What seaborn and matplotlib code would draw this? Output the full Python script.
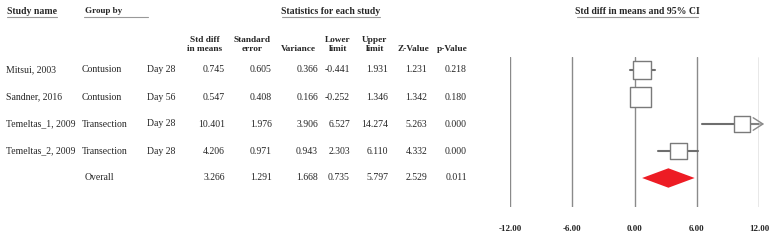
import matplotlib
matplotlib.use("Agg")
import matplotlib.pyplot as plt
from matplotlib.lines import Line2D
import seaborn as sns
import pandas as pd

# data
studies = ["Mitsui, 2003", "Sandner, 2016", "Temeltas_1, 2009", "Temeltas_2, 2009"]
groups = ["Contusion", "Contusion", "Transection", "Transection"]
days = ["Day 28", "Day 56", "Day 28", "Day 28"]
std_diff = [0.745, 0.547, 10.401, 4.206]
std_err = [0.605, 0.408, 1.976, 0.971]
variance = [0.366, 0.166, 3.906, 0.943]
lower = [-0.441, -0.252, 6.527, 2.303]
upper = [1.931, 1.346, 14.274, 6.110]
z_value = [1.231, 1.342, 5.263, 4.332]
p_value = [0.218, 0.180, 0.000, 0.000]

overall = {"std_diff": 3.266, "std_err": 1.291, "variance": 1.668,
           "lower": 0.735, "upper": 5.797, "z": 2.529, "p": 0.011}

x_ticks = [-12, -6, 0, 6, 12]

df = pd.DataFrame({
    "study": studies, "group": groups, "day": days,
    "est": std_diff, "se": std_err, "var": variance,
    "lo": lower, "hi": upper, "z": z_value, "p": p_value,
})
df["row"] = range(len(df))
df["weight"] = 1 / df["var"]

sns.set_theme(style="white")
plt.rcParams["font.family"] = ["Liberation Serif", "DejaVu Serif"]

W, H = 775, 243
fig = plt.figure(figsize=(W / 100, H / 100), dpi=100)


def fx(x):
    return x / W


def fy(y):
    return 1 - y / H


FS = 7
# header
fig.text(fx(7), fy(11), "Study name", fontsize=FS, fontweight="bold", va="center")
fig.text(fx(85), fy(11), "Group by", fontsize=FS - 0.5, fontweight="bold", va="center")
fig.text(fx(331), fy(11), "Statistics for each study", fontsize=FS, fontweight="bold",
         va="center", ha="center")
fig.text(fx(637), fy(11), "Std diff in means and 95% CI", fontsize=FS, fontweight="bold",
         va="center", ha="center")
for x0, x1 in [(7, 57), (84, 148), (282, 380), (577, 698)]:
    fig.add_artist(Line2D([fx(x0), fx(x1)], [fy(17), fy(17)], color="#999999", lw=0.8))

col_heads = [("Std diff\nin means", 205), ("Standard\nerror", 252), ("Variance", 298),
             ("Lower\nlimit", 338), ("Upper\nlimit", 375), ("Z-Value", 413), ("p-Value", 452)]
for label, cx in col_heads:
    fig.text(fx(cx), fy(53), label, fontsize=FS - 0.3, fontweight="bold",
             ha="center", va="bottom", linespacing=1.15)

# table rows
col_right = [225, 272, 318, 350, 388, 427, 467]
row_y = [70, 97, 124, 151]
for i, r in df.iterrows():
    y = fy(row_y[i])
    fig.text(fx(6), y, r["study"], fontsize=FS, va="center")
    fig.text(fx(82), y, r["group"], fontsize=FS, va="center")
    fig.text(fx(147), y, r["day"], fontsize=FS, va="center")
    vals = [r["est"], r["se"], r["var"], r["lo"], r["hi"], r["z"], r["p"]]
    for v, xr in zip(vals, col_right):
        fig.text(fx(xr), y, f"{v:.3f}", fontsize=FS, va="center", ha="right")

y_ov = fy(178)
fig.text(fx(85), y_ov, "Overall", fontsize=FS, va="center")
ov_vals = [overall[k] for k in ["std_diff", "std_err", "variance", "lower", "upper", "z", "p"]]
for v, xr in zip(ov_vals, col_right):
    fig.text(fx(xr), y_ov, f"{v:.3f}", fontsize=FS, va="center", ha="right")

# forest plot
ax = fig.add_axes([fx(510), fy(207), (759 - 510) / W, (207 - 57) / H])
xmin, xmax = x_ticks[0], x_ticks[-1]
ax.set_xlim(xmin, xmax)
ax.set_ylim((207 - 70) / 27, (57 - 70) / 27)
for t in x_ticks:
    ax.axvline(t, color="#8a8a8a", lw=1, zorder=1)

line_col = "#6e6e6e"
for _, r in df.iterrows():
    lo_c, hi_c = max(r["lo"], xmin), min(r["hi"], xmax)
    if r["hi"] > xmax:
        ax.plot([lo_c, hi_c], [r["row"], r["row"]], color=line_col, lw=1.5, zorder=2)
        ax.annotate("", xy=(hi_c + 0.5, r["row"]), xytext=(hi_c - 1.5, r["row"]),
                    arrowprops=dict(arrowstyle="->,head_length=0.7,head_width=0.45",
                                    color="#8a8a8a", lw=1, mutation_scale=10,
                                    shrinkA=0, shrinkB=0),
                    zorder=2, annotation_clip=False)
    else:
        ax.plot([lo_c, hi_c], [r["row"], r["row"]], color=line_col, lw=1.5, zorder=2)

sns.scatterplot(data=df, x="est", y="row", size="weight", sizes=(135, 225),
                marker="s", color="white", edgecolor="#7a7a7a", linewidth=1,
                legend=False, zorder=3, ax=ax)

ov_row = len(df)
h = 0.36
ax.fill([overall["lower"], overall["std_diff"], overall["upper"], overall["std_diff"]],
        [ov_row, ov_row - h, ov_row, ov_row + h], color="#ed1c24", lw=0, zorder=4)

ax.set_xticks(x_ticks)
ax.set_xticklabels([f"{t:.2f}" for t in x_ticks], fontsize=FS - 0.5, fontweight="bold")
ax.tick_params(axis="x", length=0, pad=13)
ax.set_yticks([])
ax.set_xlabel("")
ax.set_ylabel("")
for s in ax.spines.values():
    s.set_visible(False)
ax.patch.set_alpha(0)

fig.savefig("out.png", dpi=100)
